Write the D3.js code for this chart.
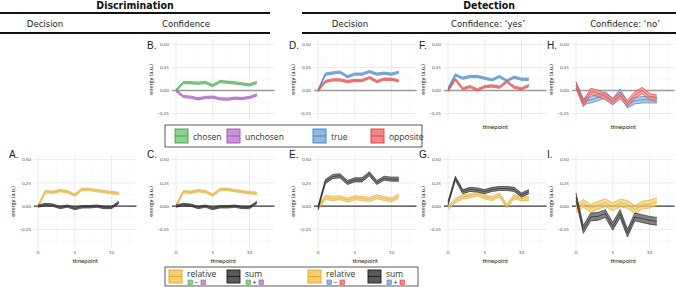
<!DOCTYPE html>
<html>
<head>
<meta charset="utf-8">
<script src="https://cdn.jsdelivr.net/npm/d3@7/dist/d3.min.js"></script>
<style>
  body { margin: 0; background: #fff; }
  svg { display: block; }
</style>
</head>
<body>
<svg id="chart" width="676" height="287"></svg>
<script>

// ---- data ----
const timepoints = [0, 1, 2, 3, 4, 5, 6, 7, 8, 9, 10, 11];
const xTicks = [0, 5, 10];
const yTicks = [-0.25, 0, 0.25, 0.5];

// discrimination, confidence (B)
const chosenB   = [0, 0.087, 0.085, 0.080, 0.087, 0.054, 0.098, 0.090, 0.083, 0.072, 0.062, 0.087];
const unchosenB = [0, -0.065, -0.072, -0.090, -0.076, -0.072, -0.090, -0.094, -0.083, -0.087, -0.076, -0.047];
// detection, decision (D)
const trueD     = [0, 0.178, 0.190, 0.200, 0.150, 0.178, 0.178, 0.206, 0.178, 0.188, 0.178, 0.200];
const oppositeD = [0, 0.098, 0.116, 0.116, 0.098, 0.109, 0.109, 0.140, 0.098, 0.123, 0.123, 0.105];
// detection, confidence 'yes' (F)
const trueF     = [0.02, 0.170, 0.134, 0.152, 0.152, 0.134, 0.116, 0.152, 0.105, 0.145, 0.123, 0.123];
const oppositeF = [0, 0.123, 0.018, 0.043, 0.007, 0.043, 0.050, 0.036, 0.098, 0.036, 0.018, 0.054];
// detection, confidence 'no' (H)
const trueH     = [0.06, -0.120, -0.100, -0.076, -0.047, -0.120, -0.018, -0.156, -0.110, -0.100, -0.100, -0.100];
const oppositeH = [0.06, -0.140, -0.010, -0.030, -0.065, -0.120, -0.054, -0.140, -0.047, 0, -0.065, -0.083];
// discrimination decision (A) and confidence (C)
const relativeA = [0, 0.156, 0.149, 0.167, 0.156, 0.120, 0.180, 0.180, 0.167, 0.156, 0.145, 0.138];
const sumA      = [0, 0.018, 0.011, -0.014, 0, -0.025, -0.007, -0.007, 0, -0.014, -0.014, 0.040];
const relativeC = [0, 0.156, 0.149, 0.167, 0.156, 0.120, 0.180, 0.180, 0.167, 0.156, 0.145, 0.138];
const sumC      = [0, 0.018, 0.011, -0.014, 0, -0.025, -0.007, -0.007, 0, -0.014, -0.014, 0.040];
// detection (E, G, I)
const sumE      = [-0.02, 0.264, 0.319, 0.326, 0.254, 0.283, 0.283, 0.348, 0.254, 0.300, 0.290, 0.290];
const relativeE = [-0.02, 0.094, 0.083, 0.090, 0.065, 0.090, 0.083, 0.072, 0.100, 0.083, 0.065, 0.109];
const sumG      = [0.03, 0.300, 0.156, 0.180, 0.174, 0.156, 0.180, 0.190, 0.190, 0.180, 0.120, 0.156];
const relativeG = [-0.02, 0.060, 0.100, 0.110, 0.130, 0.100, 0.080, 0.120, 0.000, 0.100, 0.080, 0.080];
const sumI      = [0.10, -0.250, -0.116, -0.110, -0.080, -0.217, -0.080, -0.290, -0.116, -0.134, -0.152, -0.163];
const relativeI = [-0.03, 0.030, -0.025, 0.010, 0.036, -0.007, 0.036, 0.018, -0.036, 0.011, 0.022, 0.047];

// half width of the error ribbons
const seSmall = 0.013;
const seMid = 0.022;
const seWide = 0.035;
const seWidest = 0.042;

// ---- colours ----
const col = {
  chosen:   {fill: "#8fd18f", line: "#3fa34d"},
  unchosen: {fill: "#c994d8", line: "#9b4fb5"},
  truth:    {fill: "#8fb9de", line: "#3b7fc0"},
  opposite: {fill: "#f08a8a", line: "#de3b3b"},
  relative: {fill: "#f3cf72", line: "#e0a52a"},
  sum:      {fill: "#5a5a5a", line: "#1e1e1e"}
};

const svg = d3.select("#chart");
const axisFont = "Lato, 'Open Sans', sans-serif";

// ---- layout ----
const colT0 = [38, 176, 318, 448, 576];   // pixel of timepoint 0 in each column
const pxPerUnit = 7.35;
const xDomain = [-0.55, 13.4];
const rows = [
  {top: 39, bottom: 120, domain: [-0.32, 0.56], zeroColor: "#9a9a9a", zeroWidth: 1.6, labelY: 49},
  {top: 155, bottom: 248, domain: [-0.45, 0.55], zeroColor: "#3a3a3a", zeroWidth: 1.1, labelY: 158}
];

const panels = [
  {label: "B.", c: 1, r: 0, series: [[chosenB, col.chosen, seSmall], [unchosenB, col.unchosen, seSmall]], xlab: false},
  {label: "D.", c: 2, r: 0, series: [[trueD, col.truth, seSmall], [oppositeD, col.opposite, seSmall]], xlab: false},
  {label: "F.", c: 3, r: 0, series: [[trueF, col.truth, seSmall], [oppositeF, col.opposite, seSmall]], xlab: "title"},
  {label: "H.", c: 4, r: 0, series: [[trueH, col.truth, seWide], [oppositeH, col.opposite, seWide]], xlab: "title"},
  {label: "A.", c: 0, r: 1, series: [[relativeA, col.relative, seSmall], [sumA, col.sum, seSmall]], xlab: "full"},
  {label: "C.", c: 1, r: 1, series: [[relativeC, col.relative, seSmall], [sumC, col.sum, seSmall]], xlab: "full"},
  {label: "E.", c: 2, r: 1, series: [[relativeE, col.relative, seMid], [sumE, col.sum, seMid]], xlab: "full"},
  {label: "G.", c: 3, r: 1, series: [[relativeG, col.relative, seMid], [sumG, col.sum, seMid]], xlab: "full"},
  {label: "I.", c: 4, r: 1, series: [[relativeI, col.relative, seWidest], [sumI, col.sum, seWidest]], xlab: "full"}
];

panels.forEach(function(p) {
  const row = rows[p.r];
  const t0 = colT0[p.c];
  const x = d3.scaleLinear()
    .domain(xDomain)
    .range([t0 + xDomain[0] * pxPerUnit, t0 + xDomain[1] * pxPerUnit]);
  const y = d3.scaleLinear().domain(row.domain).range([row.bottom, row.top]);
  const g = svg.append("g");
  const [x0, x1] = x.range();

  // grid: minor then major
  const minorY = [-0.375, -0.125, 0.125, 0.375].filter(v => v >= row.domain[0] && v <= row.domain[1]);
  g.selectAll(".gminy").data(minorY).enter().append("line")
    .attr("x1", x0).attr("x2", x1).attr("y1", d => y(d)).attr("y2", d => y(d))
    .attr("stroke", "#f2f2f2").attr("stroke-width", 0.5);
  g.selectAll(".gminx").data([2.5, 7.5, 12.5]).enter().append("line")
    .attr("x1", d => x(d)).attr("x2", d => x(d)).attr("y1", row.top).attr("y2", row.bottom)
    .attr("stroke", "#f2f2f2").attr("stroke-width", 0.5);
  g.selectAll(".gmajy").data(yTicks).enter().append("line")
    .attr("x1", x0).attr("x2", x1).attr("y1", d => y(d)).attr("y2", d => y(d))
    .attr("stroke", "#e6e6e6").attr("stroke-width", 0.8);
  g.selectAll(".gmajx").data(xTicks).enter().append("line")
    .attr("x1", d => x(d)).attr("x2", d => x(d)).attr("y1", row.top).attr("y2", row.bottom)
    .attr("stroke", "#e6e6e6").attr("stroke-width", 0.8);

  // zero line
  g.append("line")
    .attr("x1", x0).attr("x2", x1).attr("y1", y(0)).attr("y2", y(0))
    .attr("stroke", row.zeroColor).attr("stroke-width", row.zeroWidth);

  // ribbons with a mean line
  p.series.forEach(function(s) {
    const vals = s[0], c = s[1], se = s[2];
    const area = d3.area()
      .x((d, i) => x(timepoints[i]))
      .y0(d => y(d - se))
      .y1(d => y(d + se));
    const line = d3.line().x((d, i) => x(timepoints[i])).y(d => y(d));
    const upper = d3.line().x((d, i) => x(timepoints[i])).y(d => y(d + se));
    const lower = d3.line().x((d, i) => x(timepoints[i])).y(d => y(d - se));
    g.append("path").attr("d", area(vals)).attr("fill", c.fill).attr("fill-opacity", 0.75);
    [upper, lower, line].forEach(function(fn) {
      g.append("path").attr("d", fn(vals)).attr("fill", "none")
        .attr("stroke", c.line).attr("stroke-width", 0.7).attr("stroke-opacity", 0.9);
    });
  });

  // y axis text
  g.selectAll(".ytl").data(yTicks).enter().append("text")
    .attr("x", x0 - 3).attr("y", d => y(d)).attr("dy", "0.35em")
    .attr("text-anchor", "end").attr("font-size", 4.6).attr("fill", "#555")
    .attr("font-family", axisFont)
    .text(d => d3.format(".2f")(d));
  g.append("text")
    .attr("transform", "translate(" + (t0 - 23) + "," + ((row.top + row.bottom) / 2) + ") rotate(-90)")
    .attr("text-anchor", "middle").attr("font-size", 5.8).attr("fill", "#222")
    .attr("font-family", axisFont)
    .text("energy (a.u.)");

  // x axis text
  if (p.xlab === "full") {
    g.selectAll(".xtl").data(xTicks).enter().append("text")
      .attr("x", d => x(d)).attr("y", row.bottom + 5.5)
      .attr("text-anchor", "middle").attr("font-size", 4.6).attr("fill", "#555")
      .attr("font-family", axisFont)
      .text(d => d);
  }
  if (p.xlab) {
    g.append("text")
      .attr("x", (x0 + x1) / 2).attr("y", row.bottom + (p.xlab === "full" ? 15 : 9))
      .attr("text-anchor", "middle").attr("font-size", 6).attr("fill", "#222")
      .attr("font-family", axisFont)
      .text("timepoint");
  }

  // panel letter
  g.append("text")
    .attr("x", t0 - 29).attr("y", row.labelY)
    .attr("font-size", 10).attr("fill", "#222")
    .attr("font-family", "'Liberation Sans', Arial, sans-serif")
    .text(p.label);
});

// ---- header ----
const headFont = "'Liberation Sans Narrow', 'DejaVu Sans Condensed', sans-serif";
const groups = [
  {name: "Discrimination", x0: 0, x1: 270},
  {name: "Detection", x0: 302, x1: 676}
];
const subHeads = [
  {name: "Decision", x: 45},
  {name: "Confidence", x: 186},
  {name: "Decision", x: 350},
  {name: "Confidence: \u2018yes\u2019", x: 488},
  {name: "Confidence: \u2018no\u2019", x: 625}
];
groups.forEach(function(gr) {
  svg.append("text").attr("x", (gr.x0 + gr.x1) / 2).attr("y", 9)
    .attr("text-anchor", "middle").attr("font-size", 10.5).attr("font-weight", "bold")
    .attr("font-family", headFont).attr("fill", "#111").text(gr.name);
  [13, 33].forEach(function(yy) {
    svg.append("line").attr("x1", gr.x0).attr("x2", gr.x1).attr("y1", yy).attr("y2", yy)
      .attr("stroke", "#111").attr("stroke-width", 1.8);
  });
});
subHeads.forEach(function(h) {
  svg.append("text").attr("x", h.x).attr("y", 26.5)
    .attr("text-anchor", "middle").attr("font-size", 9.5)
    .attr("font-family", headFont).attr("fill", "#222").text(h.name);
});

// ---- legends ----
const legFont = "'Open Sans', sans-serif";
function swatch(x, y, w, h, c) {
  svg.append("rect").attr("x", x).attr("y", y).attr("width", w).attr("height", h)
    .attr("fill", c.fill).attr("stroke", c.line).attr("stroke-width", 0.9);
  svg.append("line").attr("x1", x).attr("x2", x + w).attr("y1", y + h / 2).attr("y2", y + h / 2)
    .attr("stroke", c.line).attr("stroke-width", 0.9);
}

const topLegend = [
  {name: "chosen", c: col.chosen, x: 175},
  {name: "unchosen", c: col.unchosen, x: 227},
  {name: "true", c: col.truth, x: 313},
  {name: "opposite", c: col.opposite, x: 371}
];
svg.append("rect").attr("x", 165).attr("y", 125).attr("width", 257).attr("height", 22)
  .attr("fill", "#fff").attr("stroke", "#333").attr("stroke-width", 0.8);
topLegend.forEach(function(l) {
  swatch(l.x, 129, 13, 14, l.c);
  svg.append("text").attr("x", l.x + 18).attr("y", 139.5)
    .attr("font-size", 8.5).attr("font-family", legFont).attr("fill", "#333").text(l.name);
});

const bottomLegend = [
  {name: "relative", c: col.relative, x: 169, a: col.chosen, b: col.unchosen, op: "\u2212"},
  {name: "sum", c: col.sum, x: 227, a: col.chosen, b: col.unchosen, op: "+"},
  {name: "relative", c: col.relative, x: 308, a: col.truth, b: col.opposite, op: "\u2212"},
  {name: "sum", c: col.sum, x: 368, a: col.truth, b: col.opposite, op: "+"}
];
svg.append("rect").attr("x", 165).attr("y", 267).attr("width", 253).attr("height", 19)
  .attr("fill", "#fff").attr("stroke", "#333").attr("stroke-width", 0.8);
bottomLegend.forEach(function(l) {
  swatch(l.x, 270, 13, 13, l.c);
  svg.append("text").attr("x", l.x + 18).attr("y", 277)
    .attr("font-size", 8.5).attr("font-family", legFont).attr("fill", "#333").text(l.name);
  svg.append("rect").attr("x", l.x + 19).attr("y", 280).attr("width", 4.5).attr("height", 4.5)
    .attr("fill", l.a.fill).attr("stroke", l.a.line).attr("stroke-width", 0.6);
  svg.append("text").attr("x", l.x + 27.5).attr("y", 284.6).attr("text-anchor", "middle")
    .attr("font-size", 7).attr("font-family", legFont).attr("fill", "#222").text(l.op);
  svg.append("rect").attr("x", l.x + 32).attr("y", 280).attr("width", 4.5).attr("height", 4.5)
    .attr("fill", l.b.fill).attr("stroke", l.b.line).attr("stroke-width", 0.6);
});
</script>
</body>
</html>
